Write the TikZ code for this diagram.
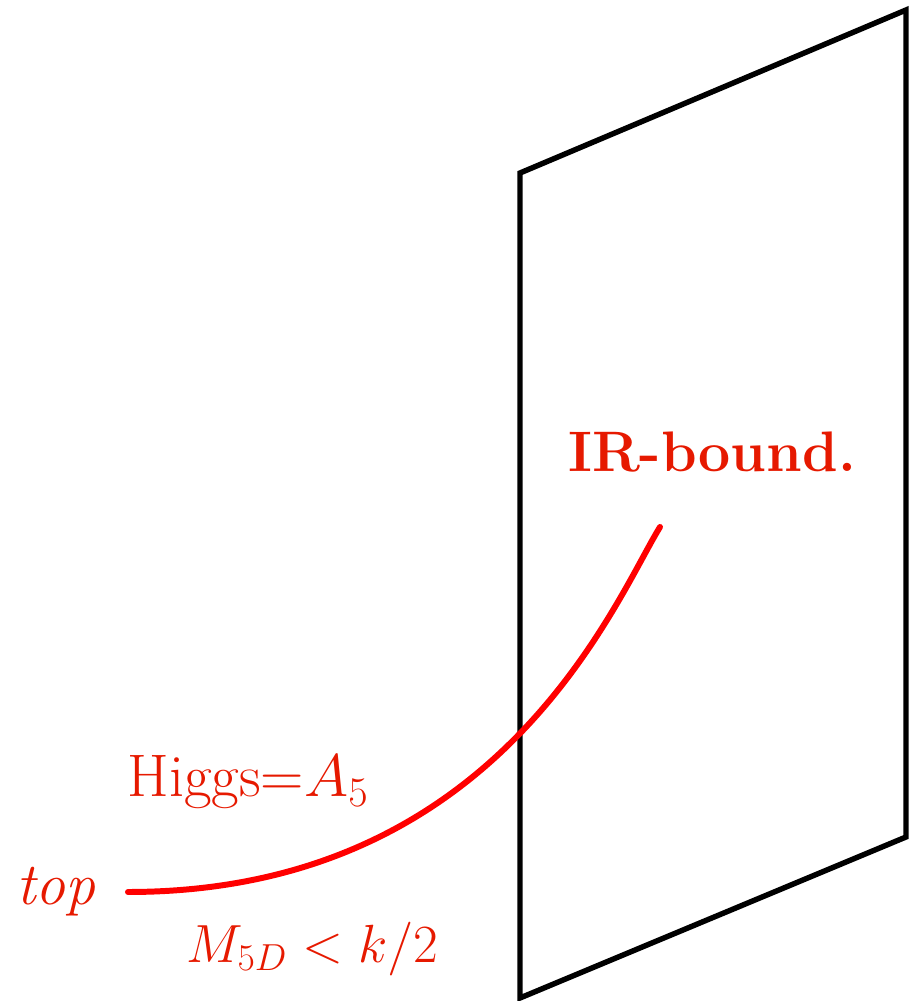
\RequirePackage{fix-cm}
\documentclass[tikz,border=0pt]{standalone}
\usepackage{tikz}
\usetikzlibrary{positioning,calc}
\definecolor{labred}{RGB}{230,25,0}

\begin{document}
\begin{tikzpicture}[font=\fontsize{34.2}{40}\selectfont]
\tikzstyle{lab}=[text=labred,inner sep=0pt,anchor=base]
\useasboundingbox (0,0) rectangle (18.18,20.02);
% the brane
\coordinate (bl) at (10.4,0.06);
\coordinate (tl) at (10.4,16.56);
\coordinate (tr) at (18.12,19.82);
\coordinate (br) at (18.12,3.28);
\draw[line width=3.1pt,line join=miter] (bl) -- (tl) -- (tr) -- (br) -- cycle;
% the top profile
\coordinate (topend) at (2.56,2.18);
\coordinate (irend) at (13.2,9.48);
\draw[red,line width=3.4pt,line cap=round] (topend) .. controls (10.0,2.18) and (12.3,8.02) .. (irend);
\node[lab,font=\fontsize{34}{40}\selectfont\itshape] (toplab) at (1.12,1.92) {top};
\node[lab] (higgs) at (4.96,4.08) {Higgs=$A_5$};
\node[lab,font=\fontsize{30.6}{36}\selectfont] (mass) at (6.25,0.78) {$M_{5D}<k/2$};
\node[lab,font=\fontsize{32.5}{38}\selectfont\bfseries] (ir) at (14.24,10.58) {IR-bound.};
\end{tikzpicture}
\end{document}
